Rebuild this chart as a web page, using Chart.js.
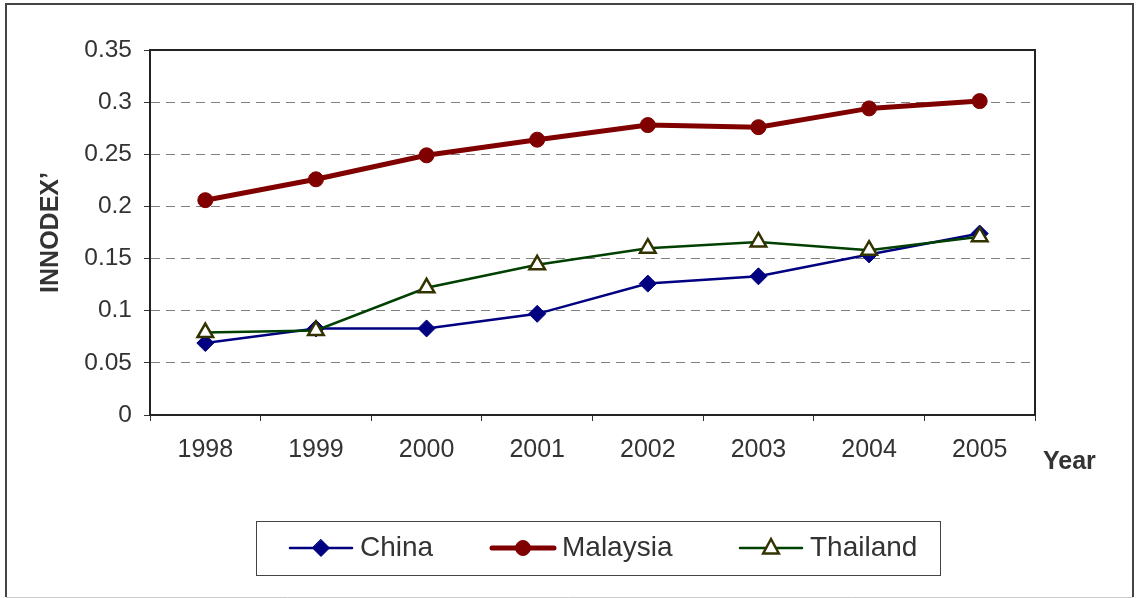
<!DOCTYPE html>
<html>
<head>
<meta charset="utf-8">
<script src="https://cdn.jsdelivr.net/npm/chart.js@4/dist/chart.umd.min.js"></script>
<style>
html, body { margin: 0; padding: 0; background: #fff; }
#wrap { width: 1136px; height: 598px; }
</style>
</head>
<body>
<div id="wrap"><canvas id="innodex" width="1136" height="598"></canvas></div>
<script>
// INNODEX' by year
var YEARS = ['1998', '1999', '2000', '2001', '2002', '2003', '2004', '2005'];
var CHINA = [0.069, 0.083, 0.083, 0.097, 0.126, 0.133, 0.154, 0.174];
var MALAYSIA = [0.206, 0.226, 0.249, 0.264, 0.278, 0.276, 0.294, 0.301];
var THAILAND = [0.079, 0.081, 0.122, 0.144, 0.160, 0.166, 0.158, 0.171];
var Y_LABELS = ['0', '0.05', '0.1', '0.15', '0.2', '0.25', '0.3', '0.35'];

var FONT = "'Liberation Sans', Arial, sans-serif";
var TEXT = '#333';

// frame, plot box, 'Year' and the boxed legend
var decor = {
  id: 'decor',
  beforeDraw: function(chart) {
    var c = chart.ctx;
    c.save();
    c.fillStyle = '#fff';
    c.fillRect(0, 0, chart.width, chart.height);
    c.restore();
  },
  afterDraw: function(chart) {
    var c = chart.ctx, a = chart.chartArea;
    c.save();
    // plot box
    c.strokeStyle = '#222';
    c.lineWidth = 2;
    c.strokeRect(a.left, a.top, a.right - a.left, a.bottom - a.top);

    // outer frame
    c.strokeStyle = '#444';
    c.lineWidth = 2;
    c.beginPath();
    c.moveTo(6, 597); c.lineTo(6, 4); c.lineTo(1133, 4); c.lineTo(1133, 597);
    c.stroke();
    c.strokeStyle = '#ccc';
    c.lineWidth = 1;
    c.beginPath(); c.moveTo(6, 597.5); c.lineTo(1133, 597.5); c.stroke();

    // x axis title
    c.fillStyle = TEXT;
    c.font = 'bold 25px ' + FONT;
    c.textBaseline = 'middle';
    c.textAlign = 'left';
    c.fillText('Year', 1043, 462);

    // legend
    c.strokeStyle = '#444';
    c.lineWidth = 1;
    c.strokeRect(256.5, 521.5, 684, 54);
    var starts = [290, 492, 740];
    var ly = 548;
    chart.data.datasets.forEach(function(ds, i) {
      var x0 = starts[i];
      c.strokeStyle = ds.borderColor;
      c.lineWidth = ds.borderWidth;
      c.lineCap = 'round';
      c.beginPath(); c.moveTo(x0, ly); c.lineTo(x0 + 62, ly); c.stroke();
      var mx = x0 + 31, r = ds.pointRadius;
      c.fillStyle = ds.pointBackgroundColor;
      c.strokeStyle = ds.pointBorderColor;
      c.lineWidth = ds.pointBorderWidth;
      c.beginPath();
      if (ds.pointStyle === 'rectRot') {
        c.moveTo(mx, ly - r); c.lineTo(mx + r, ly); c.lineTo(mx, ly + r); c.lineTo(mx - r, ly);
      } else if (ds.pointStyle === 'triangle') {
        c.moveTo(mx, ly - r); c.lineTo(mx + r * 0.87, ly + r * 0.6); c.lineTo(mx - r * 0.87, ly + r * 0.6);
      } else {
        c.arc(mx, ly, r, 0, Math.PI * 2);
      }
      c.closePath();
      c.fill();
      c.stroke();
      c.fillStyle = TEXT;
      c.font = '28px ' + FONT;
      c.textAlign = 'left';
      c.fillText(ds.label, x0 + 70, ly);
    });
    c.restore();
  }
};

var ctx = document.getElementById('innodex').getContext('2d');
var innodexChart = new Chart(ctx, {
  type: 'line',
  data: {
    labels: YEARS,
    datasets: [
      {
        label: 'China', data: CHINA, order: 2,
        borderColor: '#000080', borderWidth: 2.5, tension: 0,
        pointStyle: 'rectRot', pointRadius: 8.5,
        pointBackgroundColor: '#000080', pointBorderColor: '#000080', pointBorderWidth: 1
      },
      {
        label: 'Malaysia', data: MALAYSIA, order: 1,
        borderColor: '#800000', borderWidth: 5, tension: 0,
        pointStyle: 'circle', pointRadius: 7.5,
        pointBackgroundColor: '#800000', pointBorderColor: '#800000', pointBorderWidth: 1
      },
      {
        label: 'Thailand', data: THAILAND, order: 0,
        borderColor: '#004000', borderWidth: 2.5, tension: 0,
        pointStyle: 'triangle', pointRadius: 9,
        pointBackgroundColor: '#fff', pointBorderColor: '#333300', pointBorderWidth: 2.5
      }
    ]
  },
  options: {
    responsive: false,
    animation: false,
    devicePixelRatio: 1,
    layout: { padding: { left: 16, top: 50, right: 101, bottom: 0 } },
    plugins: {
      legend: { display: false },
      tooltip: { enabled: false }
    },
    scales: {
      x: {
        offset: true,
        grid: {
          offset: true, drawOnChartArea: false, drawTicks: true,
          tickLength: 6, tickColor: '#333', tickWidth: 1
        },
        border: { display: true, color: '#222', width: 2 },
        ticks: { color: TEXT, font: { family: FONT, size: 25 }, padding: 14, maxRotation: 0 },
        afterFit: function(s) { s.height = 598 - 415; }
      },
      y: {
        min: 0, max: 0.35,
        grid: {
          color: '#808080', lineWidth: 1,
          tickLength: 6, tickColor: '#333', tickWidth: 1, tickBorderDash: []
        },
        border: { display: true, color: '#222', width: 2, dash: [9, 6] },
        ticks: {
          stepSize: 0.05, color: TEXT, font: { family: FONT, size: 24.5 }, padding: 12,
          callback: function(v, i) { return Y_LABELS[i]; }
        },
        title: {
          display: true, text: 'INNODEX\u2019', color: TEXT,
          font: { family: FONT, size: 25, weight: 'bold' },
          padding: { top: 20, bottom: 0 }
        },
        afterFit: function(s) { s.width = 150 - 16; }
      }
    }
  },
  plugins: [decor]
});
</script>
</body>
</html>
